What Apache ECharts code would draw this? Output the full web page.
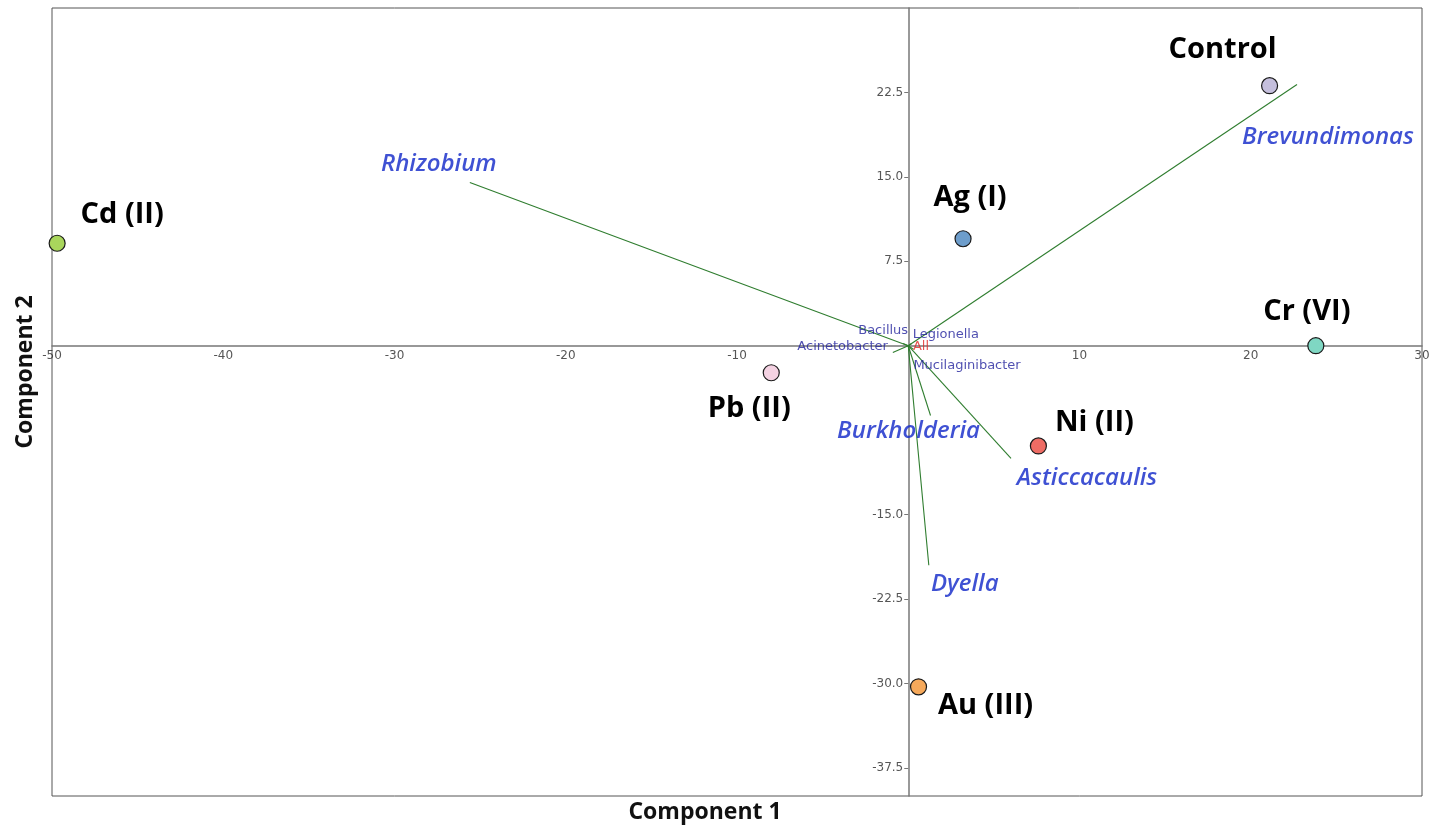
<!DOCTYPE html>
<html>
<head>
<meta charset="utf-8">
<script src="https://cdn.jsdelivr.net/npm/echarts@6/dist/echarts.min.js"></script>
<style>
html,body{margin:0;padding:0;background:#fff;}
#chart{width:1441px;height:826px;}
</style>
</head>
<body>
<div id="chart"></div>
<script>
// ---- data ----
const pointNames = ['Cd (II)', 'Pb (II)', 'Ag (I)', 'Control', 'Cr (VI)', 'Ni (II)', 'Au (III)'];
const pointX = [-49.7, -8.0, 3.2, 21.1, 23.8, 7.6, 0.6];
const pointY = [9.1, -2.4, 9.5, 23.1, 0.0, -8.9, -30.3];

const vectorNames = ['Rhizobium', 'Brevundimonas', 'Burkholderia', 'Asticcacaulis', 'Dyella',
  'Bacillus', 'Legionella', 'Acinetobacter', 'Mucilaginibacter', 'All'];
const vectorX = [-25.6, 22.7, 1.3, 6.0, 1.2, -0.3, 0.2, -0.9, 0.3, 0.1];
const vectorY = [14.5, 23.2, -6.2, -10.0, -19.5, 0.2, 0.2, -0.6, -0.3, -0.05];

const xTickLabels = [-50, -40, -30, -20, -10, 10, 20, 30];
const yTickLabels = [-37.5, -30, -22.5, -15, 7.5, 15, 22.5];

// ---- styles ----
const pointColors = ['#a9d65c', '#f4d2e2', '#6d9dcb', '#c5bfdd', '#7fd7c3', '#ee6c64', '#f6a95b'];
const pointLabelOffsets = [[65, -29], [-22, 36], [7, -41], [-47, -36], [-9, -34], [56, -23], [67, 19]];

const bigLabelStyle = {fontFamily: 'Open Sans', fontStyle: 'italic', fontWeight: 600, fontSize: 24, color: '#0f25c8'};
const smallLabelStyle = {fontFamily: 'DejaVu Sans', fontSize: 13, color: '#24249e'};
const vectorLabelCfg = [
  {style: 'big', offset: [-31, -18], align: 'center'},
  {style: 'big', offset: [31, 53], align: 'center'},
  {style: 'big', offset: [-22, 16], align: 'center'},
  {style: 'big', offset: [76, 20], align: 'center'},
  {style: 'big', offset: [36, 19], align: 'center'},
  {style: 'small', offset: [5, -13], align: 'right'},
  {style: 'small', offset: [1, -9], align: 'left'},
  {style: 'small', offset: [-5, -6], align: 'right'},
  {style: 'small', offset: [0, 17], align: 'left'},
  {style: 'small', offset: [3, 0], align: 'left', color: '#e02828'}
];
const tickFont = {fontFamily: 'DejaVu Sans', fontSize: 12, color: '#2a2a2a'};

const chart = echarts.init(document.getElementById('chart'));

const series = [];
// vectors
vectorNames.forEach((n, i) => {
  series.push({
    type: 'line',
    name: n,
    data: [[0, 0], [vectorX[i], vectorY[i]]],
    symbol: 'none',
    silent: true,
    z: 2,
    lineStyle: {color: '#2f7d2f', width: 1.1},
    animation: false
  });
});
// vector labels
series.push({
  type: 'scatter',
  symbolSize: 0,
  z: 4,
  silent: true,
  animation: false,
  data: vectorNames.map((n, i) => {
    const c = vectorLabelCfg[i];
    const st = c.style === 'big' ? bigLabelStyle : smallLabelStyle;
    return {
      value: [vectorX[i], vectorY[i]],
      name: n,
      label: Object.assign({
        show: true,
        position: 'inside',
        formatter: n,
        align: c.align,
        verticalAlign: 'middle',
        offset: c.offset
      }, st, c.color ? {color: c.color} : {})
    };
  })
});
// x tick labels along the zero line
series.push({
  type: 'scatter', symbolSize: 0, silent: true, clip: false, z: 3, animation: false,
  data: xTickLabels.map(v => ({
    value: [v, 0],
    label: Object.assign({show: true, position: 'inside', formatter: String(v), align: 'center', verticalAlign: 'middle', offset: [0, 10]}, tickFont)
  }))
});
// y tick labels along the zero line
series.push({
  type: 'scatter', symbolSize: 0, silent: true, clip: false, z: 3, animation: false,
  data: yTickLabels.map(v => ({
    value: [0, v],
    label: Object.assign({show: true, position: 'inside', formatter: v.toFixed(1), align: 'right', verticalAlign: 'middle', offset: [-5, 0]}, tickFont)
  }))
});
// points
series.push({
  type: 'scatter',
  symbolSize: 16,
  z: 5,
  clip: false,
  animation: false,
  data: pointNames.map((n, i) => ({
    value: [pointX[i], pointY[i]],
    name: n,
    itemStyle: {color: pointColors[i], borderColor: '#1a1a1a', borderWidth: 1.2, opacity: 1},
    label: {
      show: true,
      position: 'inside',
      formatter: n,
      offset: pointLabelOffsets[i],
      fontFamily: 'Open Sans',
      fontWeight: 'bold',
      fontSize: 29,
      color: '#000'
    }
  }))
});

chart.setOption({
  backgroundColor: '#fff',
  animation: false,
  grid: {left: 52, right: 19, top: 8, bottom: 30, show: true, borderColor: '#555', borderWidth: 1},
  xAxis: {
    type: 'value',
    min: -50, max: 30, interval: 10,
    axisLine: {onZero: true, lineStyle: {color: '#777', width: 1.5}},
    axisTick: {show: false},
    splitLine: {show: false},
    axisLabel: {show: false}
  },
  yAxis: {
    type: 'value',
    min: -40, max: 30,
    axisLine: {onZero: true, lineStyle: {color: '#777', width: 1.5}},
    axisTick: {show: true, customValues: yTickLabels, length: 4, lineStyle: {color: '#777'}},
    splitLine: {show: false},
    axisLabel: {show: false}
  },
  graphic: [
    {type: 'text', x: 705, y: 812, style: {text: 'Component 1', font: 'bold 23px "Open Sans"', fill: '#111', align: 'center', verticalAlign: 'middle'}, z: 10},
    {type: 'text', x: 25, y: 372, rotation: Math.PI / 2, style: {text: 'Component 2', font: 'bold 23px "Open Sans"', fill: '#111', align: 'center', verticalAlign: 'middle'}, z: 10}
  ],
  series: series
});
</script>
</body>
</html>
